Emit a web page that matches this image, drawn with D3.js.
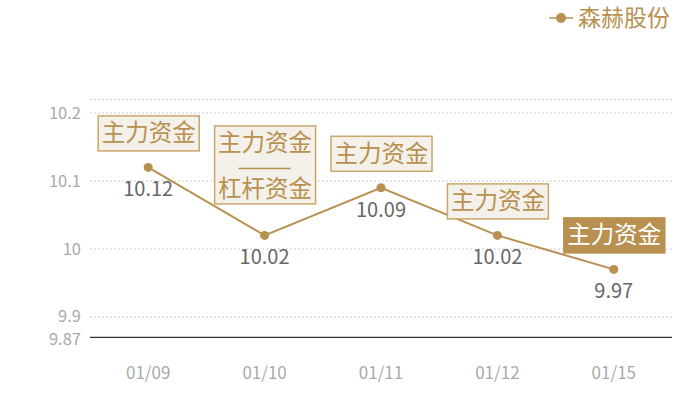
<!DOCTYPE html>
<html lang="zh">
<head>
<meta charset="UTF-8">
<title>森赫股份</title>
<script src="https://d3js.org/d3.v7.min.js"></script>
<style>
  body { margin: 0; background: #fff; }
  text { font-family: "Noto Sans CJK SC", "Noto Sans", sans-serif; }
</style>
</head>
<body>
<svg width="700" height="400"></svg>
<script>
const dates = ['01/09', '01/10', '01/11', '01/12', '01/15'];
const prices = [10.12, 10.02, 10.09, 10.02, 9.97];
const tags = [['主力资金'], ['主力资金', '杠杆资金'], ['主力资金'], ['主力资金'], ['主力资金']];
const highlight = [false, false, false, false, true];
const yTicks = [9.87, 9.9, 10, 10.1, 10.2, 10.22];
const seriesName = '森赫股份';

const gold = '#b8904f';
const svg = d3.select('svg');
const plotL = 90, plotR = 672, plotT = 99.4, plotB = 337.4;

const x = d3.scaleBand().domain(dates).range([plotL, plotR]);
const y = d3.scaleLinear().domain([9.87, 10.22]).range([plotB, plotT]);

// gridlines
svg.append('g').selectAll('line')
    .data(yTicks.filter(d => d !== 9.87))
    .enter().append('line')
    .attr('x1', plotL).attr('x2', plotR)
    .attr('y1', d => y(d)).attr('y2', d => y(d))
    .attr('stroke', '#ccc').attr('stroke-dasharray', '2,2');

// baseline
svg.append('line')
    .attr('x1', plotL).attr('x2', plotR)
    .attr('y1', y(9.87)).attr('y2', y(9.87))
    .attr('stroke', '#333').attr('stroke-width', 1.2);

// y labels
svg.append('g').selectAll('text')
    .data(yTicks.filter(d => d !== 10.22))
    .enter().append('text')
    .attr('x', 81).attr('y', d => y(d) + (d === 9.87 ? 1.5 : d === 9.9 ? -1 : 0))
    .attr('dy', '0.35em')
    .attr('text-anchor', 'end')
    .attr('fill', '#aaa').attr('font-size', 16.5)
    .text(d => d);

// x labels
svg.append('g').selectAll('text')
    .data(dates)
    .enter().append('text')
    .attr('x', d => x(d) + x.bandwidth() / 2).attr('y', 373)
    .attr('dy', '0.35em')
    .attr('text-anchor', 'middle')
    .attr('fill', '#aaa').attr('font-size', 17)
    .text(d => d);

const cx = (d, i) => x(dates[i]) + x.bandwidth() / 2;

// line
svg.append('path')
    .datum(prices)
    .attr('fill', 'none').attr('stroke', gold).attr('stroke-width', 2)
    .attr('d', d3.line().x(cx).y(d => y(d)));

svg.append('g').selectAll('circle')
    .data(prices)
    .enter().append('circle')
    .attr('cx', cx).attr('cy', d => y(d)).attr('r', 4.5)
    .attr('fill', gold);

// value labels
svg.append('g').selectAll('text')
    .data(prices)
    .enter().append('text')
    .attr('x', cx).attr('y', d => y(d) + 22)
    .attr('dy', '0.35em')
    .attr('text-anchor', 'middle')
    .attr('fill', '#666').attr('font-size', 20)
    .text(d => d.toFixed(2));

// annotation boxes
const boxW = 101, lineH = 35;
prices.forEach((p, i) => {
    const lines = tags[i];
    const h = lines.length === 1 ? lineH : 78;
    const gap = lines.length === 1 ? 17 : 32;
    const bx = cx(p, i) - boxW / 2;
    const by = y(p) - gap - h;
    const g = svg.append('g');
    g.append('rect')
        .attr('x', bx + 0.5).attr('y', by + 0.5)
        .attr('width', boxW).attr('height', h)
        .attr('fill', highlight[i] ? gold : '#f4f0ea')
        .attr('stroke', highlight[i] ? gold : '#c9a66b')
        .attr('stroke-width', 1.5);
    const tc = highlight[i] ? '#fff' : gold;
    if (lines.length === 1) {
        g.append('text')
            .attr('x', bx + boxW / 2 + 0.5).attr('y', by + h / 2)
            .attr('dy', '0.36em').attr('text-anchor', 'middle')
            .attr('fill', tc).attr('font-size', 23.5)
            .text(lines[0]);
    } else {
        g.append('text')
            .attr('x', bx + boxW / 2 + 0.5).attr('y', by + 17)
            .attr('dy', '0.36em').attr('text-anchor', 'middle')
            .attr('fill', tc).attr('font-size', 23.5)
            .text(lines[0]);
        g.append('line')
            .attr('x1', bx + boxW / 2 - 26).attr('x2', bx + boxW / 2 + 26)
            .attr('y1', by + 43).attr('y2', by + 43)
            .attr('stroke', tc).attr('stroke-width', 1.5);
        g.append('text')
            .attr('x', bx + boxW / 2 + 0.5).attr('y', by + 63)
            .attr('dy', '0.36em').attr('text-anchor', 'middle')
            .attr('fill', tc).attr('font-size', 23.5)
            .text(lines[1]);
    }
});

// legend
const lg = svg.append('g');
lg.append('line').attr('x1', 549).attr('x2', 573).attr('y1', 18).attr('y2', 18)
    .attr('stroke', gold).attr('stroke-width', 1.5);
lg.append('circle').attr('cx', 561).attr('cy', 18).attr('r', 5).attr('fill', gold);
lg.append('text').attr('x', 578).attr('y', 18).attr('dy', '0.36em')
    .attr('fill', gold).attr('font-size', 23)
    .text(seriesName);
</script>
</body>
</html>
